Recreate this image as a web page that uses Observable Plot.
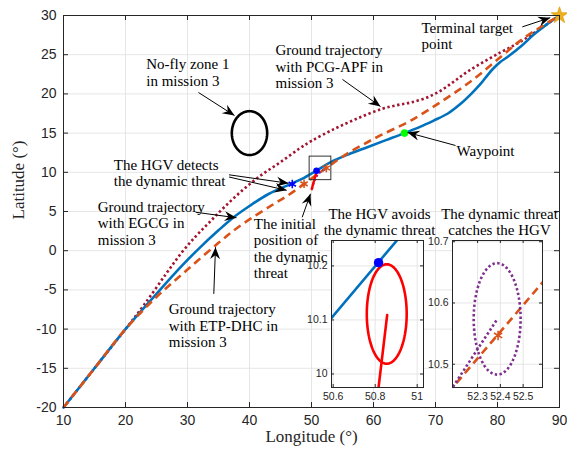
<!DOCTYPE html>
<html><head><meta charset="utf-8">
<script src="https://cdn.jsdelivr.net/npm/d3@7"></script>
<script src="https://cdn.jsdelivr.net/npm/@observablehq/plot@0.6"></script>
<style>
html,body{margin:0;padding:0;background:#fff;}
#chart{position:relative;width:567px;height:456px;}
#chart svg{position:absolute;left:0;top:0;}
</style></head><body><div id="chart"></div>
<script>
// ---------- data ----------
const xTicks = [10,20,30,40,50,60,70,80,90];
const yTicks = [-20,-15,-10,-5,0,5,10,15,20,25,30];

// EGCG ground trajectory (blue)
const egcgLon = [10,15,20,25,29,32,35,37.5,40,43,46.6,48.8,50.8,53.1,56,59,62,65,67.5,69.7,72,74,76,77.3,78.5,79.4,80.5,81.6,83.7,85.9,88,90];
const egcgLat = [-20,-15,-10,-5.5,-2.0,0.4,2.6,4.3,5.7,7.2,8.5,9.3,10.2,11.3,12.3,13.2,14.1,15.0,15.8,16.6,17.5,18.7,20.2,21.3,22.5,23.3,24.1,24.7,26.0,27.6,28.9,30];
// ETP-DHC ground trajectory (orange dashed)
const etpLon = [10,15,20,25,30,35,38,41.2,44,46.1,48.8,50.5,52.4,55.2,58,61.1,66,71.3,76.2,80.5,83.7,86.9,90];
const etpLat = [-20,-15,-10,-5.9,-2.4,1.0,2.9,4.6,6.0,7.0,8.5,9.5,10.55,12.1,13.4,14.7,16.6,19.2,21.9,24.7,26.8,28.5,30];
// PCG-APF ground trajectory (crimson dotted)
const pcgLon = [10,15,20,23,26.5,29,31.3,33.5,36,39,42,45,48,50,53.6,57.5,61.4,64,66,68.5,70.8,73,75.1,77.8,80.5,82.7,84.8,86.5,88,90];
const pcgLat = [-20,-15,-10,-6.9,-3.0,-0.3,1.8,3.6,5.6,7.8,9.7,11.3,13.0,14.0,15.5,16.9,18.1,18.6,18.9,19.5,20.4,21.6,22.8,24.1,25.3,26.2,27.2,28.1,28.9,30];
// dynamic threat paths
const redLon = [50.05,50.4,50.7,50.816,50.857];
const redLat = [7.85,8.9,9.7,9.975,10.109];
const purpleLon = [50.05,50.5,51.2,52.19,52.387];
const purpleLat = [7.85,9.0,9.9,10.462,10.574];
// zoomed-in views
const egcgZoomLon = [50.55,50.95];
const egcgZoomLat = [10.0846,10.2686];
const etpZoomLon = [52.17,52.6];
const etpZoomLat = [10.453,10.640];
const redZoomLon = [50.81,50.816,50.857];
const redZoomLat = [9.955,9.975,10.109];
const purpleZoomLon = [52.17,52.19,52.387];
const purpleZoomLat = [10.450,10.462,10.574];
// zones (centre, radii)
const noFlyZone = {lon: 40, lat: 15, rLon: 2.85, rLat: 2.8};
const redZone = {lon: 50.855, lat: 10.111, rLon: 0.095, rLat: 0.092};
const purpleZone = {lon: 52.386, lat: 10.574, rLon: 0.103, rLat: 0.091};
// special points
const waypoint = {lon: 65, lat: 15};
const target = {lon: 90, lat: 30};
const avoidPoint = {lon: 50.816, lat: 10.206};
const egcgDetect = {lon: 46.9, lat: 8.5};
const etpDetect = {lon: 48.8, lat: 8.53};
const etpCaught = {lon: 52.39, lat: 10.547};
const boxLon = [49.7, 53.2];
const boxLat = [9.0, 12.0];
// inset ticks
const zoom1XTicks = [50.6, 50.8, 51];
const zoom1YTicks = [10, 10.1, 10.2];
const zoom2XTicks = [52.3, 52.4, 52.5];
const zoom2YTicks = [10.5, 10.6, 10.7];
// annotations
const annText = [
  "Terminal target\npoint",
  "Ground trajectory\nwith PCG-APF in\nmission 3",
  "No-fly zone 1\nin mission 3",
  "Waypoint",
  "The HGV detects\nthe dynamic threat",
  "Ground trajectory\nwith EGCG in\nmission 3",
  "The initial\nposition of\nthe dynamic\nthreat",
  "Ground trajectory\nwith ETP-DHC in\nmission 3"
];
const annLon = [67.74,44.19,23.34,73.39,18.11,15.53,40.69,26.98];
const annLat = [27.42,23.49,22.77,12.69,9.97,3.56,0.32,-9.54];
const arrowLon1 = [84.0,55.0,31.77,73.23,36.7,36.7,31.29,48.5,34.24];
const arrowLat1 = [28.55,21.84,20.18,13.42,9.68,9.4,4.91,4.27,-5.5];
const arrowLon2 = [88.5,61.13,37.58,65.48,46.3,46.0,37.9,49.84,34.52];
const arrowLat2 = [29.72,18.39,17.24,15.08,8.6,7.7,4.2,7.26,0.45];

// ---------- helpers ----------
const pts = (lon, lat) => lon.map((d, i) => ({lon: d, lat: lat[i]}));
const ring = (c) => d3.range(0, 361, 3).map(a => ({
  lon: c.lon + c.rLon * Math.cos(a * Math.PI / 180),
  lat: c.lat + c.rLat * Math.sin(a * Math.PI / 180)
}));
const BLUE = "#0072BD", ORANGE = "#D95319", CRIMSON = "#A2142F", PURPLE = "#7E2F8E", RED = "#FF0000";
const AX = "#262626", GRID = "#e0e0e0";
const SERIF = "Liberation Serif", SANS = "Liberation Sans";
const BUTT = {strokeLinecap: "butt", strokeLinejoin: "miter"};

const W = 567, H = 456;
const mL = 63, mR = 8, mT = 15, mB = 49;
const innerW = W - mL - mR, innerH = H - mT - mB;
const xDom = [10, 90], yDom = [-20, 30];
const kx = innerW / (xDom[1] - xDom[0]), ky = innerH / (yDom[1] - yDom[0]);

const arrows = arrowLon1.map((d, i) => {
  const dxp = (arrowLon2[i] - d) * kx, dyp = -(arrowLat2[i] - arrowLat1[i]) * ky;
  return {x1: d, y1: arrowLat1[i], x2: arrowLon2[i], y2: arrowLat2[i],
          angle: Math.atan2(dxp, -dyp) * 180 / Math.PI};
});
const arrowHead = {draw(ctx) { const L = 12, Wd = 5, N = 8;
  ctx.moveTo(0, 0); ctx.lineTo(-Wd, L); ctx.lineTo(0, N); ctx.lineTo(Wd, L); ctx.closePath(); }};
const annotations = annText.map((t, i) => ({text: t, lon: annLon[i], lat: annLat[i]}));

// ---------- main chart ----------
const main = Plot.plot({
  width: W, height: H,
  marginLeft: mL, marginRight: mR, marginTop: mT, marginBottom: mB,
  x: {domain: xDom, axis: null}, y: {domain: yDom, axis: null},
  style: {background: "none", overflow: "visible"},
  marks: [
    Plot.ruleX(xTicks, {stroke: GRID, strokeWidth: 0.8}),
    Plot.ruleY(yTicks, {stroke: GRID, strokeWidth: 0.8}),
    Plot.line(ring(noFlyZone), {x: "lon", y: "lat", stroke: "black", strokeWidth: 2.6}),
    Plot.line(pts(pcgLon, pcgLat), {x: "lon", y: "lat", curve: "catmull-rom", stroke: CRIMSON, strokeWidth: 2.6, strokeDasharray: "2.4,2.6", ...BUTT}),
    Plot.line(pts(egcgLon, egcgLat), {x: "lon", y: "lat", curve: "catmull-rom", stroke: BLUE, strokeWidth: 2.6}),
    Plot.line(pts(etpLon, etpLat), {x: "lon", y: "lat", curve: "catmull-rom", stroke: ORANGE, strokeWidth: 2.6, strokeDasharray: "8,5", ...BUTT}),
    Plot.line(pts(purpleLon, purpleLat), {x: "lon", y: "lat", curve: "catmull-rom", stroke: PURPLE, strokeWidth: 2.4, strokeDasharray: "2.2,2.2", ...BUTT}),
    Plot.line(pts(redLon, redLat), {x: "lon", y: "lat", curve: "catmull-rom", stroke: RED, strokeWidth: 2.4}),
    Plot.line(ring(redZone), {x: "lon", y: "lat", stroke: RED, strokeWidth: 1.5}),
    Plot.line(ring(purpleZone), {x: "lon", y: "lat", stroke: PURPLE, strokeWidth: 1.5}),
    Plot.rect([{x1: boxLon[0], x2: boxLon[1], y1: boxLat[0], y2: boxLat[1]}], {x1: "x1", x2: "x2", y1: "y1", y2: "y2", fill: "none", stroke: "#333", strokeWidth: 1}),
    Plot.dot([egcgDetect], {x: "lon", y: "lat", symbol: "asterisk", r: 4, stroke: "#0000FF", strokeWidth: 1.6}),
    Plot.dot([etpDetect, etpCaught], {x: "lon", y: "lat", symbol: "asterisk", r: 4, stroke: ORANGE, strokeWidth: 1.6}),
    Plot.dot([avoidPoint], {x: "lon", y: "lat", r: 3.3, fill: "#0000FF", stroke: "none"}),
    Plot.dot([waypoint], {x: "lon", y: "lat", r: 3.8, fill: "#00FF00", stroke: "none"}),
    Plot.dot([target], {x: "lon", y: "lat", symbol: "star", r: 5.2, fill: "#EDB120", stroke: "#E0A010", strokeWidth: 0.8}),
    Plot.frame({stroke: AX, strokeWidth: 1}),
    Plot.tickX(xTicks, {insetTop: innerH - 5, stroke: AX}),
    Plot.tickX(xTicks, {insetBottom: innerH - 5, stroke: AX}),
    Plot.tickY(yTicks, {insetRight: innerW - 5, stroke: AX}),
    Plot.tickY(yTicks, {insetLeft: innerW - 5, stroke: AX}),
    Plot.text(xTicks, {x: d => d, frameAnchor: "bottom", dy: 17, text: d => String(d), fontFamily: SANS, fontSize: 14, fill: AX}),
    Plot.text(yTicks, {y: d => d, frameAnchor: "left", dx: -7, textAnchor: "end", text: d => String(d), fontFamily: SANS, fontSize: 14, fill: AX}),
    Plot.text(["Longitude (°)"], {frameAnchor: "bottom", dy: 34, fontFamily: SERIF, fontSize: 17, fill: AX}),
    Plot.text(["Latitude (°)"], {frameAnchor: "left", dx: -45, dy: 8, rotate: -90, fontFamily: SERIF, fontSize: 17, fill: AX}),
    Plot.text(annotations, {x: "lon", y: "lat", text: "text", textAnchor: "start", lineAnchor: "middle", lineHeight: 1.1, fontFamily: SERIF, fontSize: 15, fill: "black"}),
    Plot.link(arrows, {x1: "x1", y1: "y1", x2: "x2", y2: "y2", stroke: "black", strokeWidth: 1}),
    Plot.dot(arrows, {x: "x2", y: "y2", symbol: arrowHead, rotate: "angle", fill: "black", stroke: "none", r: 5})
  ]
});

// ---------- insets ----------
function inset({mLeft, mRight, xDomain, yDomain, xT, yT, title, marks}) {
  const iw = W - mLeft - mRight, ih = H - 240 - 69;
  return Plot.plot({
    width: W, height: H,
    marginLeft: mLeft, marginRight: mRight, marginTop: 240, marginBottom: 69,
    x: {domain: xDomain, axis: null}, y: {domain: yDomain, axis: null},
    style: {background: "none", overflow: "visible"},
    marks: [
      Plot.frame({fill: "white", stroke: "none"}),
      Plot.ruleX(xT, {stroke: GRID, strokeWidth: 0.8}),
      Plot.ruleY(yT, {stroke: GRID, strokeWidth: 0.8}),
      ...marks,
      Plot.frame({stroke: AX, strokeWidth: 1}),
      Plot.tickX(xT, {insetTop: ih - 3, stroke: AX}),
      Plot.tickX(xT, {insetBottom: ih - 3, stroke: AX}),
      Plot.tickY(yT, {insetRight: iw - 3, stroke: AX}),
      Plot.tickY(yT, {insetLeft: iw - 3, stroke: AX}),
      Plot.text(xT, {x: d => d, frameAnchor: "bottom", dy: 12, text: d => String(d), fontFamily: SANS, fontSize: 10.5, fill: AX}),
      Plot.text(yT, {y: d => d, frameAnchor: "left", dx: -4, textAnchor: "end", text: d => String(d), fontFamily: SANS, fontSize: 10.5, fill: AX}),
      Plot.text([title], {frameAnchor: "top", dx: 2, dy: -19, lineAnchor: "middle", lineHeight: 1.1, fontFamily: SERIF, fontSize: 15, fill: "black"})
    ]
  });
}

const inset1 = inset({
  mLeft: 331, mRight: W - 423, xDomain: [50.592, 51.03], yDomain: [9.975, 10.247],
  xT: zoom1XTicks, yT: zoom1YTicks, title: "The HGV avoids\nthe dynamic threat",
  marks: [
    Plot.line(pts(egcgZoomLon, egcgZoomLat), {x: "lon", y: "lat", stroke: BLUE, strokeWidth: 2.6, clip: true}),
    Plot.line(ring(redZone), {x: "lon", y: "lat", stroke: RED, strokeWidth: 2.6, clip: true}),
    Plot.line(pts(redZoomLon, redZoomLat), {x: "lon", y: "lat", stroke: RED, strokeWidth: 2.6, clip: true}),
    Plot.dot([avoidPoint], {x: "lon", y: "lat", r: 4.7, fill: "#0000FF", stroke: "none"})
  ]
});
const inset2 = inset({
  mLeft: 452, mRight: W - 542, xDomain: [52.19, 52.585], yDomain: [10.462, 10.702],
  xT: zoom2XTicks, yT: zoom2YTicks, title: "The dynamic threat\ncatches the HGV",
  marks: [
    Plot.line(pts(etpZoomLon, etpZoomLat), {x: "lon", y: "lat", stroke: ORANGE, strokeWidth: 2.6, strokeDasharray: "8,5", clip: true, ...BUTT}),
    Plot.line(ring(purpleZone), {x: "lon", y: "lat", stroke: PURPLE, strokeWidth: 2.6, strokeDasharray: "2.4,2.4", clip: true, ...BUTT}),
    Plot.line(pts(purpleZoomLon, purpleZoomLat), {x: "lon", y: "lat", stroke: PURPLE, strokeWidth: 2.6, strokeDasharray: "2.4,2.4", clip: true, ...BUTT}),
    Plot.dot([etpCaught], {x: "lon", y: "lat", symbol: "asterisk", r: 4.5, stroke: ORANGE, strokeWidth: 1.6})
  ]
});

const host = document.getElementById("chart");
host.append(main, inset1, inset2);
</script></body></html>
